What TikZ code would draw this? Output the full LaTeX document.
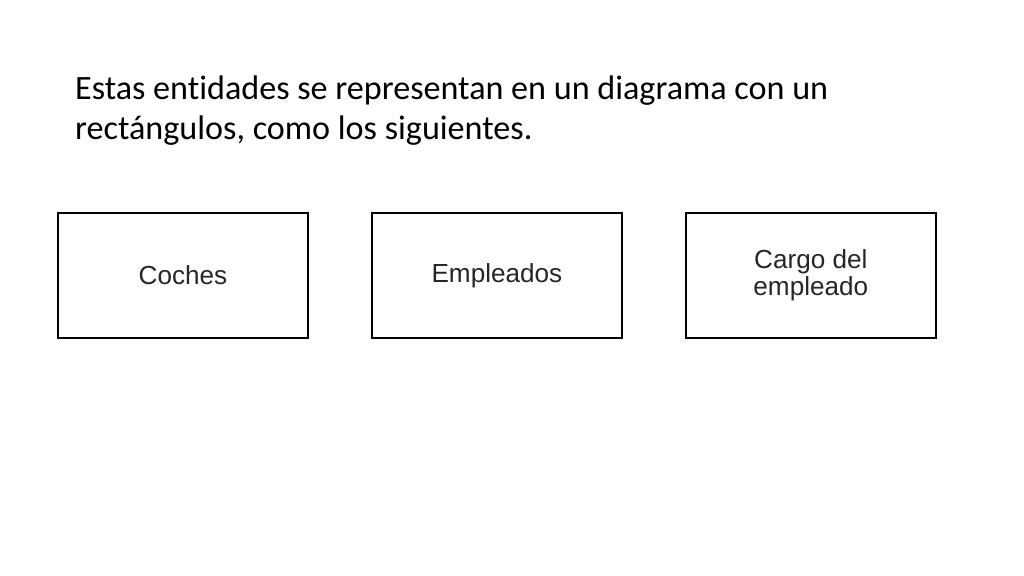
\documentclass[tikz,border=0pt]{standalone}
\usepackage{fontspec}
\setmainfont{Carlito}[Ligatures=NoCommon]
\newfontfamily\boxfont{Liberation Sans}
\usetikzlibrary{positioning}

\begin{document}
\begin{tikzpicture}[
    x=0.9375pt, y=-0.9375pt,
    entity/.style={rectangle, draw=black, line width=1.3pt, minimum width=234.4pt,
        minimum height=117.2pt, align=center, text=black!85,
        font=\boxfont\fontsize{24.5}{25}\selectfont},
    heading/.style={anchor=base west, align=left, inner sep=0pt,
        font=\fontsize{32}{37.5}\selectfont}
]
\useasboundingbox[fill=white] (0,0) rectangle (1024,576);

% Heading
\node[heading] (title) at (75,140) {Estas entidades se representan en un diagrama con un\\
rectángulos, como los siguientes.};

% Entities
\node[entity] (coches) at (183,275.5) {Coches};
\node[entity, right=58.6pt of coches] (empleados) {Empleados};
\node[entity, right=58.6pt of empleados] (cargo) {Cargo del\\empleado};
\end{tikzpicture}
\end{document}
